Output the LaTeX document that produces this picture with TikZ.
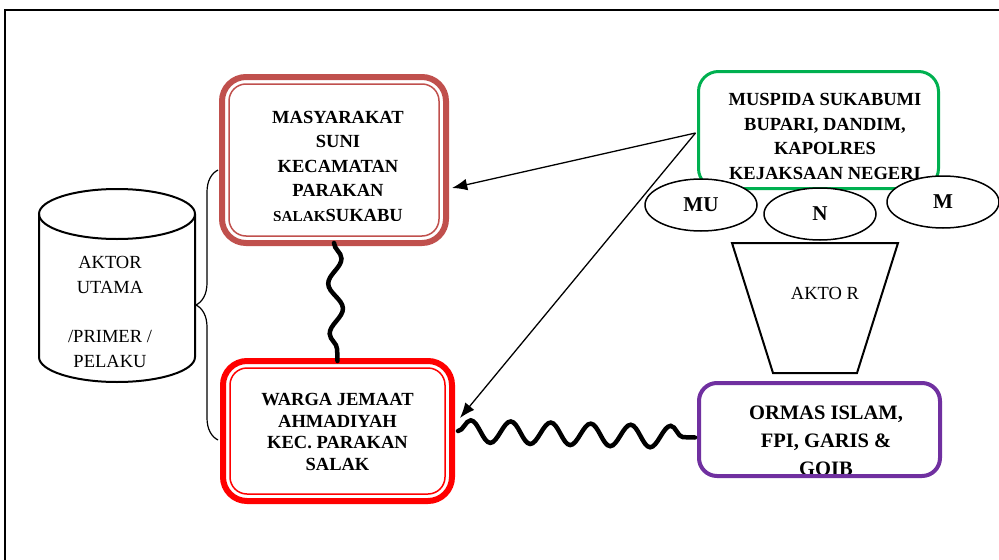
\documentclass[tikz,border=0pt]{standalone}
\usepackage{fontspec}
\setmainfont{Liberation Serif}
\usetikzlibrary{arrows.meta,decorations.pathmorphing,
decorations.pathreplacing,shapes.geometric}
\newlength{\unitpx}
\setlength{\unitpx}{0.03cm}
\definecolor{suniRed}{HTML}{C0504D}
\definecolor{jemaatRed}{HTML}{FF0000}
\definecolor{muspidaGreen}{HTML}{00B050}
\definecolor{ormasPurple}{HTML}{7030A0}
\tikzset{%
  actorbox/.style  = {shape=rectangle, draw, outer sep=0pt, inner sep=0pt},%
  suniBox/.style   = {actorbox, draw=suniRed, line width=6\unitpx,%
                      rounded corners=24\unitpx,%
                      minimum width=224\unitpx, minimum height=166\unitpx},%
  jemaatBox/.style = {actorbox, draw=jemaatRed, line width=6\unitpx,%
                      rounded corners=24\unitpx,%
                      minimum width=229\unitpx, minimum height=140\unitpx},%
  muspidaBox/.style= {actorbox, draw=muspidaGreen, line width=3\unitpx,%
                      rounded corners=20\unitpx,%
                      minimum width=240\unitpx, minimum height=117\unitpx},%
  ormasBox/.style  = {actorbox, draw=ormasPurple, line width=4\unitpx,%
                      rounded corners=18\unitpx,%
                      minimum width=241\unitpx, minimum height=93\unitpx},%
  boxtext/.style   = {align=center, inner sep=0pt,%
                      font=\bfseries\fontsize{15.8}{20.8}\selectfont},%
  plaintext/.style = {align=center, inner sep=0pt,%
                      font=\fontsize{15.8}{21}\selectfont},%
  bubble/.style    = {ellipse, draw, fill=white, line width=1.5\unitpx,%
                      inner sep=0pt, minimum width=112\unitpx,%
                      minimum height=52\unitpx,%
                      font=\bfseries\fontsize{18}{18}\selectfont},%
  outline/.style   = {line width=2\unitpx},%
  wave/.style      = {decorate, line width=4.5\unitpx, line cap=round,%
                      decoration={snake, segment length=40\unitpx, amplitude=11\unitpx}},%
  pointer/.style   = {-{Latex[length=13pt, width=10pt]}, line width=1.1pt}%
}
\begin{document}
\begin{tikzpicture}[x=0.03cm, y=-0.03cm]
	\path[use as bounding box, clip] (0,0) rectangle (999,560);
	\draw[outline] (5,10) rectangle (1030,590);
	% aktor utama
	\draw[outline] (117,214) ellipse [x radius=78, y radius=25];
	\draw[outline] (39,214) -- (39,357)
		arc [start angle=180, end angle=0, x radius=78, y radius=25] -- (195,214);
	\node (aktorUtama) at (110,312) [plaintext] {AKTOR\\UTAMA\\[21pt]/PRIMER /\\PELAKU};
	\draw[decorate, decoration={brace, amplitude=22\unitpx}, line width=1.2\unitpx]
		(218,440) -- (218,170);
	% masyarakat suni and jemaat ahmadiyah
	\node (masyarakat) at (334,160) [suniBox] {};
	\draw[suniRed, line width=1.5\unitpx, rounded corners=17\unitpx]
		([shift={(7,7)}]masyarakat.north west) rectangle ([shift={(-7,-7)}]masyarakat.south east);
	\begin{scope}
		\clip (230,80) rectangle (440,220);
		\node (masyarakatText) at (338,166) [boxtext, font=\bfseries\fontsize{15.8}{20.9}\selectfont]
			{MASYARAKAT\\SUNI\\KECAMATAN\\PARAKAN\\{\fontsize{13}{13}\selectfont SALAK}SUKABU};
	\end{scope}
	\node (jemaat) at (337.5,431) [jemaatBox] {};
	\draw[jemaatRed, line width=1.5\unitpx, rounded corners=17\unitpx]
		([shift={(7,7)}]jemaat.north west) rectangle ([shift={(-7,-7)}]jemaat.south east);
	\node (jemaatText) at (337.5,432) [boxtext, font=\bfseries\fontsize{15.8}{18.7}\selectfont]
		{WARGA JEMAAT\\AHMADIYAH\\KEC. PARAKAN\\SALAK};
	\draw[wave, decoration={segment length=50\unitpx, amplitude=7\unitpx}]
		(masyarakat.south) -- (jemaat.north);
	% muspida
	\node (muspida) at (818.5,130) [muspidaBox] {};
	\node (muspidaText) at (825,136.5) [boxtext]
		{MUSPIDA SUKABUMI\\BUPARI, DANDIM,\\KAPOLRES\\KEJAKSAAN NEGERI};
	\node (mu) at (701,205) [bubble] {\raisebox{-6\unitpx}{MU}};
	\node (n) at (820,214) [bubble] {\raisebox{-5\unitpx}{N}};
	\node (m) at (943,202) [bubble] {\raisebox{-5\unitpx}{M}};
	\draw[outline] (732,243) -- (898,243) -- (857,373) -- (773,373) -- cycle;
	\node (aktor) at (825,293) [plaintext] {AKTO R};
	% ormas
	\node (ormas) at (819.5,429.5) [ormasBox] {};
	\begin{scope}
		\clip (705,390) rectangle (935,473);
		\node (ormasText) at (826,440.5) [boxtext, font=\bfseries\fontsize{17.5}{23.9}\selectfont]
			{ORMAS ISLAM,\\FPI, GARIS \&\\GOIB};
	\end{scope}
	\draw[wave] ([xshift=6\unitpx]jemaat.east) -- ([shift={(-4,8)}]ormas.west);
	% arrows
	\draw[pointer] ([shift={(-3,3)}]muspida.west) -- ([shift={(6,28)}]masyarakat.east);
	\draw[pointer] ([shift={(-3,3)}]muspida.west) -- ([shift={(8,-13)}]jemaat.east);
\end{tikzpicture}
\end{document}
